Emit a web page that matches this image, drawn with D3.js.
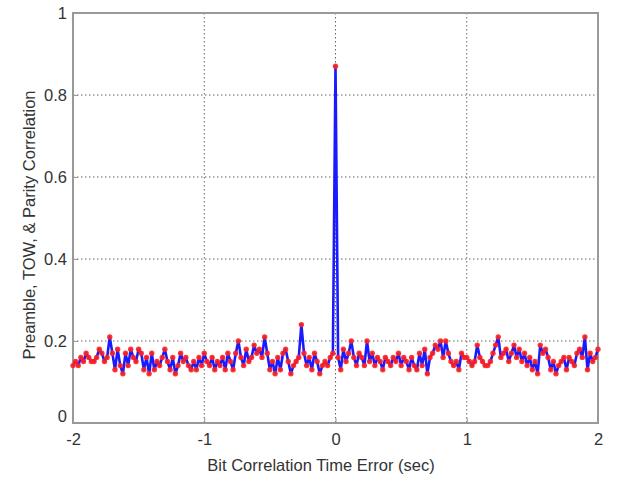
<!DOCTYPE html>
<html><head><meta charset="utf-8">
<script src="https://cdn.jsdelivr.net/npm/d3@7"></script>
<style>body{margin:0;background:#fff}</style>
</head><body>
<svg id="c" width="624" height="477"></svg>
<script>
const xStart = -2, xStep = 0.02;
const corr = [
0.14,0.15,0.14,0.16,0.15,0.17,0.16,0.15,0.15,0.16,
0.18,0.17,0.15,0.16,0.21,0.17,0.13,0.18,0.14,0.12,
0.17,0.14,0.18,0.16,0.15,0.18,0.17,0.13,0.16,0.12,
0.17,0.13,0.15,0.14,0.16,0.18,0.15,0.13,0.16,0.12,
0.14,0.17,0.15,0.16,0.14,0.13,0.15,0.13,0.16,0.14,
0.17,0.15,0.14,0.16,0.13,0.15,0.14,0.16,0.13,0.17,
0.15,0.13,0.17,0.20,0.16,0.14,0.18,0.15,0.16,0.19,
0.17,0.18,0.16,0.21,0.17,0.13,0.15,0.12,0.16,0.13,
0.17,0.18,0.15,0.12,0.14,0.15,0.16,0.24,0.17,0.14,
0.16,0.13,0.17,0.15,0.12,0.14,0.15,0.14,0.16,0.17,
0.87,
0.16,0.13,0.18,0.15,0.17,0.20,0.16,0.14,0.17,0.16,
0.14,0.20,0.15,0.17,0.14,0.16,0.15,0.13,0.16,0.15,
0.14,0.16,0.15,0.17,0.14,0.16,0.15,0.13,0.16,0.14,
0.13,0.17,0.14,0.18,0.12,0.16,0.17,0.19,0.18,0.20,
0.16,0.20,0.17,0.15,0.14,0.15,0.13,0.17,0.16,0.16,
0.15,0.14,0.15,0.19,0.16,0.15,0.14,0.14,0.15,0.17,
0.19,0.21,0.16,0.17,0.18,0.15,0.17,0.19,0.16,0.18,
0.15,0.17,0.14,0.16,0.13,0.15,0.12,0.19,0.17,0.18,
0.16,0.13,0.15,0.12,0.14,0.15,0.16,0.13,0.16,0.15,
0.14,0.17,0.18,0.16,0.21,0.13,0.17,0.15,0.16,0.18
];
const xTicks = [-2,-1,0,1,2];
const xTickLabels = ["-2","-1","0","1","2"];
const yTicks = [0,0.2,0.4,0.6,0.8,1];
const yTickLabels = ["0","0.2","0.4","0.6","0.8","1"];
const xLabel = "Bit Correlation Time Error (sec)";
const yLabel = "Preamble, TOW, & Parity Correlation";

const data = corr.map((v,i)=>({x: +(xStart + i*xStep).toFixed(2), y: v}));
const L=73, R=598, T=13, B=423;
const svg = d3.select("#c");
const x = d3.scaleLinear().domain([-2,2]).range([L,R]);
const y = d3.scaleLinear().domain([0,1]).range([B,T]);
const font = "Liberation Sans, Arial, sans-serif";

// grid
const g = svg.append("g");
g.selectAll(".gx").data(xTicks.slice(1,-1)).join("line")
 .attr("x1",d=>x(d)).attr("x2",d=>x(d)).attr("y1",T).attr("y2",B)
 .attr("stroke","#666").attr("stroke-width",1).attr("stroke-dasharray","1.5,2.5");
g.selectAll(".gy").data(yTicks.slice(1,-1)).join("line")
 .attr("y1",d=>y(d)).attr("y2",d=>y(d)).attr("x1",L).attr("x2",R)
 .attr("stroke","#666").attr("stroke-width",1).attr("stroke-dasharray","1.5,2.5");

// axes via d3
const ax = svg.append("g").attr("transform",`translate(0,${B})`)
 .call(d3.axisBottom(x).tickValues(xTicks).tickSize(-5).tickPadding(8).tickFormat((d,i)=>xTickLabels[i]));
const ay = svg.append("g").attr("transform",`translate(${L},0)`)
 .call(d3.axisLeft(y).tickValues(yTicks).tickSize(-5).tickPadding(6).tickFormat((d,i)=>yTickLabels[i]));
[ax,ay].forEach(a=>{
  a.select(".domain").remove();
  a.selectAll("line").attr("stroke","#999");
  a.selectAll("text").attr("font-family",font).attr("font-size",16.5).attr("fill","#333");
});
ay.selectAll(".tick").filter(d=>d===0).select("text").attr("dy","-0.1em");
ax.selectAll("text").attr("dy","0.85em");

// frame
svg.append("rect").attr("x",L).attr("y",T).attr("width",R-L).attr("height",B-T)
 .attr("fill","none").attr("stroke","#999").attr("stroke-width",2);

// line
svg.append("path").datum(data)
 .attr("d",d3.line().x(d=>x(d.x)).y(d=>y(d.y)))
 .attr("fill","none").attr("stroke","#1a1aff").attr("stroke-width",2.6).attr("stroke-linejoin","round");
// markers
svg.append("g").selectAll("circle").data(data).join("circle")
 .attr("cx",d=>x(d.x)).attr("cy",d=>y(d.y)).attr("r",2.7)
 .attr("fill","#ff2020").attr("opacity",0.9);

// labels
svg.append("text").attr("x",321).attr("y",471).attr("text-anchor","middle")
 .attr("font-family",font).attr("font-size",16.5).attr("fill","#333").text(xLabel);
svg.append("text").attr("transform","translate(35,225) rotate(-90)").attr("text-anchor","middle")
 .attr("font-family",font).attr("font-size",16.5).attr("fill","#333").text(yLabel);
</script>
</body></html>
